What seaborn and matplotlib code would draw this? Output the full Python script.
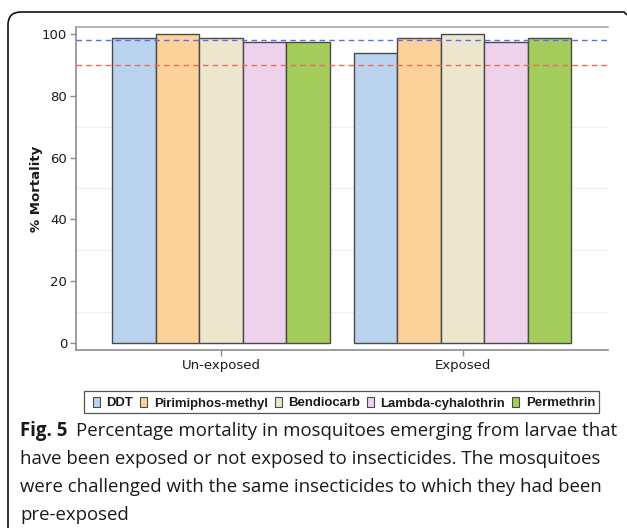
import numpy as np
import pandas as pd
import matplotlib
matplotlib.use("Agg")
import matplotlib.pyplot as plt
from matplotlib.patches import PathPatch, Rectangle
from matplotlib.path import Path
import seaborn as sns

# Exposure history of the larvae
groups = ["Un-exposed", "Exposed"]
# Insecticides used in the adult challenge
insecticides = ["DDT", "Pirimiphos-methyl", "Bendiocarb", "Lambda-cyhalothrin", "Permethrin"]
# Percentage mortality per insecticide
unexposed_mortality = [98.6, 100.0, 98.6, 97.4, 97.4]
exposed_mortality = [93.8, 98.6, 100.0, 97.4, 98.6]
# WHO reference thresholds
susceptible_threshold = 98
resistance_threshold = 90
y_ticks = [0, 20, 40, 60, 80, 100]

colors = ["#bad3ee", "#fdd19a", "#ece6cd", "#eed2ec", "#a3cc5b"]
palette = dict(zip(insecticides, colors))

df = pd.DataFrame({
    "group": np.repeat(groups, len(insecticides)),
    "insecticide": insecticides * len(groups),
    "mortality": unexposed_mortality + exposed_mortality,
})

sns.set_theme(style="white")
plt.rcParams["font.family"] = ["DejaVu Sans"]

W, H = 627, 531
fig = plt.figure(figsize=(W / 100, H / 100), dpi=100)
ax = fig.add_axes([76 / W, 1 - 350 / H, (607.7 - 76) / W, (350 - 27.3) / H])

sns.barplot(data=df, x="group", y="mortality", hue="insecticide",
            order=groups, hue_order=insecticides, palette=palette,
            width=0.9, saturation=1, edgecolor="#4a4a4a", linewidth=1.0,
            errorbar=None, legend=False, ax=ax, zorder=2)

ax.set_xlim(-0.6, 1.6)
ax.set_ylim(-2.36, 102.2)
ax.set_yticks(y_ticks)
ax.set_yticks([10, 30, 50, 70, 90], minor=True)
ax.yaxis.grid(True, which="minor", color="#f0f0f0", linewidth=1.0, zorder=0)
ax.set_axisbelow(True)

ax.axhline(susceptible_threshold, color="#5a6cf5", linestyle=(0, (4, 3)), linewidth=1.0, zorder=3)
ax.axhline(resistance_threshold, color="#e5705c", linestyle=(0, (4, 3)), linewidth=1.0, zorder=3)

for side in ["left", "bottom"]:
    ax.spines[side].set_color("#8c8c8c")
    ax.spines[side].set_linewidth(1.2)
ax.spines["top"].set_color("#a8a8a8")
ax.spines["top"].set_linewidth(1.2)
ax.spines["right"].set_visible(False)

ax.tick_params(axis="both", which="major", direction="out", length=4.3, width=1,
               color="#8c8c8c", labelsize=9.5, labelcolor="#1a1a1a", pad=2,
               left=True, bottom=True)
ax.tick_params(axis="y", which="minor", length=0)
ax.set_xlabel("")
ax.set_ylabel("% Mortality", fontsize=9.5, fontweight="bold", color="#1a1a1a", labelpad=-1)

# Legend row below the axes, laid out in pixel units
def px(x, y):
    return x / W, 1 - y / H

leg_family = ["Liberation Sans", "DejaVu Sans"]
leg_cy = 402
box_w, box_h = 7, 10
gap_box_text, gap_item = 6.5, 7
pad_l, pad_r = 9, 4
label_span = 408  # combined width of the five labels, px
renderer = fig.canvas.get_renderer()
texts = [fig.text(0, 0, name, va="baseline", ha="left", color="#1a1a1a",
                  family=leg_family, weight="bold", size=10) for name in insecticides]
base = sum(t.get_window_extent(renderer).width for t in texts)
for t in texts:
    t.set_fontsize(10 * label_span / base)
widths = [t.get_window_extent(renderer).width for t in texts]
total = pad_l + pad_r + sum(box_w + gap_box_text + w for w in widths) + gap_item * (len(widths) - 1)
x = 341.5 - total / 2
fig.add_artist(Rectangle(px(x, leg_cy + 11), total / W, 22 / H, transform=fig.transFigure,
                         facecolor="white", edgecolor="#555555", linewidth=0.9))
x += pad_l
for t, w, c in zip(texts, widths, colors):
    fig.add_artist(Rectangle(px(x, leg_cy + box_h / 2), box_w / W, box_h / H,
                             transform=fig.transFigure, facecolor=c,
                             edgecolor="#4a4a4a", linewidth=0.8))
    x += box_w + gap_box_text
    t.set_position(px(x, leg_cy + 4.5))
    x += w + gap_item

# Caption block
cap_font = ["Open Sans", "DejaVu Sans"]
cap_size = 13.4
fig.text(20 / W, 1 - 431 / H, "Fig. 5", fontsize=cap_size, fontweight="bold",
         family=cap_font, va="center", ha="left", color="#1a1a1a")
fig.text(76 / W, 1 - 431 / H, "Percentage mortality in mosquitoes emerging from larvae that",
         fontsize=cap_size, family=cap_font, va="center", ha="left", color="#1a1a1a")
caption_lines = [
    "have been exposed or not exposed to insecticides. The mosquitoes",
    "were challenged with the same insecticides to which they had been",
    "pre-exposed",
]
for i, line in enumerate(caption_lines):
    fig.text(20 / W, 1 - (459 + 28 * i) / H, line, fontsize=cap_size, family=cap_font,
             va="center", ha="left", color="#1a1a1a")

# Frame with a rounded upper-left corner
r = 13
verts = [(8, 528), (8, 12 + r), (8, 12), (8 + r, 12), (624, 12), (627, 15)]
codes = [Path.MOVETO, Path.LINETO, Path.CURVE3, Path.CURVE3, Path.LINETO, Path.LINETO]
verts = [px(x_, y_) for x_, y_ in verts]
fig.add_artist(PathPatch(Path(verts, codes), transform=fig.transFigure, fill=False,
                         edgecolor="#111111", linewidth=1.2))

fig.savefig("out.png", dpi=100)
